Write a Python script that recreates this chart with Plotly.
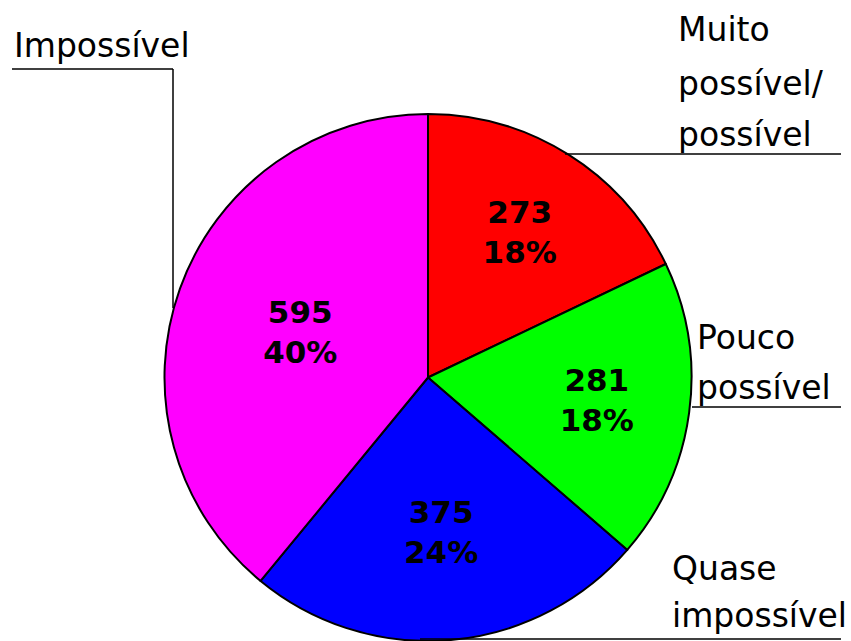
import plotly.graph_objects as go

W, H = 851, 641

categories = ["Muito possível/possível", "Pouco possível", "Quase impossível", "Impossível"]
values = [273, 281, 375, 595]
percent_labels = ["18%", "18%", "24%", "40%"]
colors = ["#FF0000", "#00FF00", "#0000FF", "#FF00FF"]

FONT = "DejaVu Sans"

def px(x):
    return x / W

def py(y):
    return 1 - y / H

fig = go.Figure()
fig.add_trace(go.Pie(
    labels=categories,
    values=values,
    text=[f"<b>{v}</b><br><b>{p}</b>" for v, p in zip(values, percent_labels)],
    textinfo="text",
    textposition="inside",
    insidetextorientation="horizontal",
    sort=False,
    direction="clockwise",
    rotation=0,
    marker=dict(colors=colors, line=dict(color="black", width=2)),
    textfont=dict(family=FONT, size=31, color="black"),
    domain=dict(x=[px(163), px(693)], y=[0, py(114)]),
    showlegend=False,
    hoverinfo="label+value+percent",
))

# label texts (one annotation per line)
label_lines = [
    ("Impossível", 12, 46),
    ("Muito", 676, 30),
    ("possível/", 676, 84),
    ("possível", 676, 134),
    ("Pouco", 695, 337),
    ("possível", 695, 387),
    ("Quase", 670, 568),
    ("impossível", 670, 615),
]
annotations = []
for t, x, y in label_lines:
    annotations.append(dict(
        text=t, x=px(x), y=py(y), xref="paper", yref="paper",
        xanchor="left", yanchor="middle", showarrow=False,
        font=dict(family=FONT, size=33, color="black"),
    ))

line_style = dict(color="black", width=1.5)
leaders = [
    (12, 69, 173, 69),
    (173, 69, 173, 308),
    (565, 154, 841, 154),
    (692, 407, 841, 407),
    (420, 639, 841, 639),
]
shapes = []
for x0, y0, x1, y1 in leaders:
    shapes.append(dict(type="line", xref="paper", yref="paper",
                       x0=px(x0), y0=py(y0), x1=px(x1), y1=py(y1), line=line_style))

fig.update_layout(
    width=W, height=H,
    margin=dict(l=0, r=0, t=0, b=0),
    paper_bgcolor="white",
    plot_bgcolor="white",
    annotations=annotations,
    shapes=shapes,
)

fig.write_html("out.html")
